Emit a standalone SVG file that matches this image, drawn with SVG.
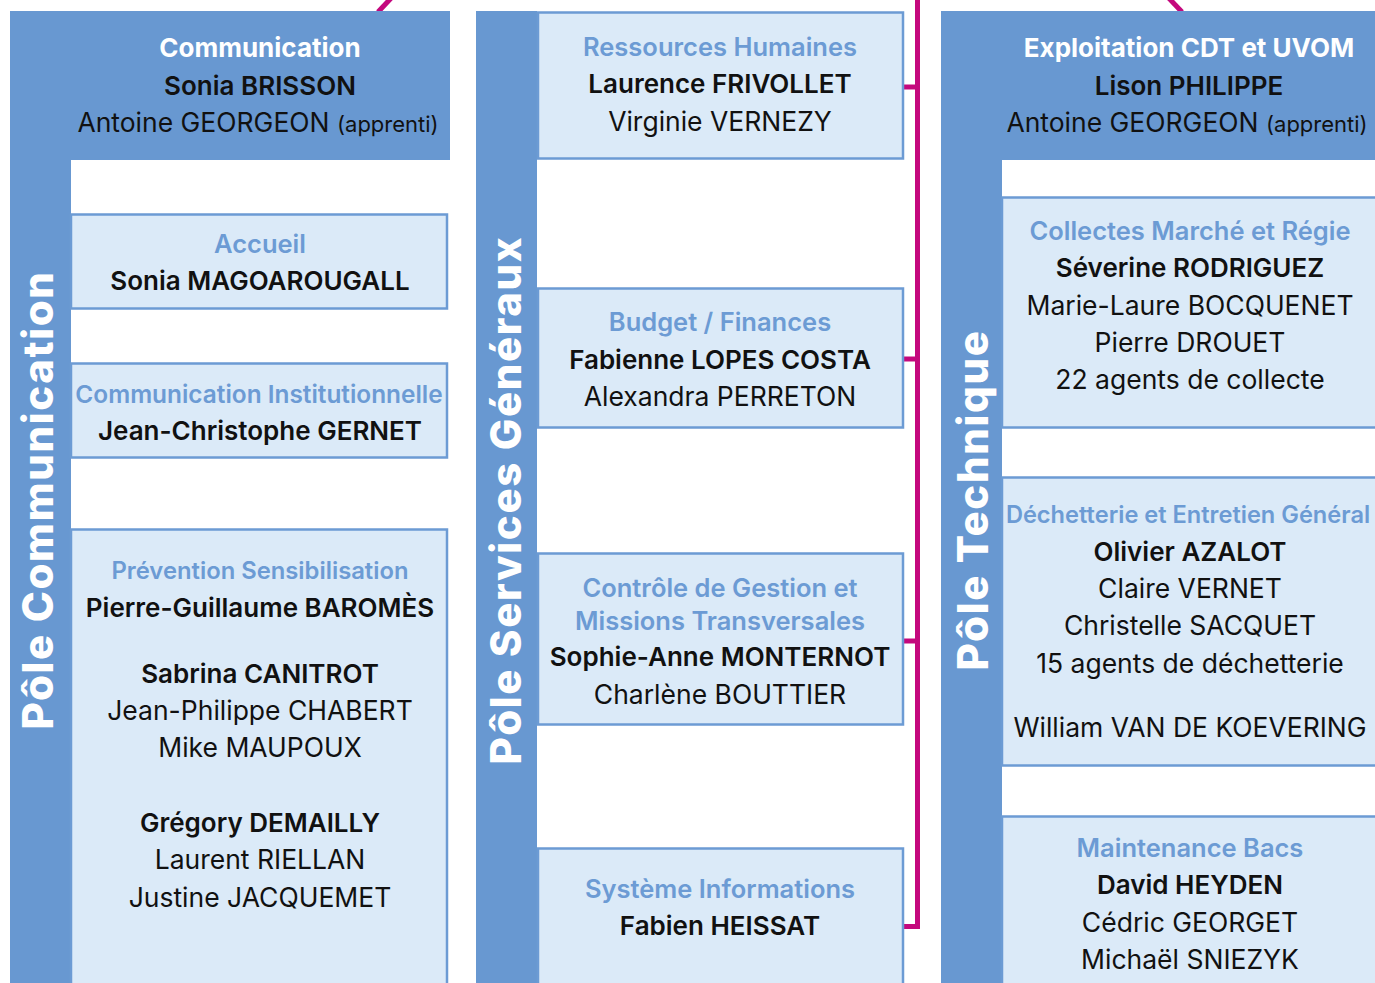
<svg xmlns="http://www.w3.org/2000/svg" width="1375" height="983" viewBox="0 0 1375 983">
<style>
text{font-family:"Inter","Noto Sans","Liberation Sans",sans-serif;text-anchor:middle;font-size:26.5px;fill:#111}
.bar{fill:#6898d1}
.box{fill:#dbeaf8;stroke:#6c9bd4;stroke-width:2.5}
.t{fill:#fff;font-weight:700;font-size:26px}
.s{fill:#6c9bd4;font-weight:600;font-size:25.5px}
.b{font-weight:600;font-size:26px}
.r{font-weight:400}
.sm{font-size:22px}
.pole{fill:#fff;font-weight:800;font-size:42px;letter-spacing:1.6px}
.con{stroke:#c4087d;stroke-width:5;fill:none}
</style>
<rect width="1375" height="983" fill="#fff"/>
<g id="connectors">
<line class="con" x1="378" y1="12" x2="395" y2="-6"/>
<line class="con" x1="1182" y1="12" x2="1163" y2="-8"/>
<polyline class="con" points="917.5,-2 917.5,926.5 903,926.5"/>
<line class="con" x1="903" y1="87" x2="917.5" y2="87"/>
<line class="con" x1="903" y1="359" x2="917.5" y2="359"/>
<line class="con" x1="903" y1="641" x2="917.5" y2="641"/>
</g>
<g id="pole-communication">
<rect class="bar" x="10" y="11" width="61" height="980"/>
<rect class="bar" x="10" y="11" width="440" height="149"/>
<text class="pole" transform="translate(53,500) rotate(-90)">Pôle Communication</text>
<text class="t" x="260" y="57">Communication</text>
<text class="b" x="260" y="95">Sonia BRISSON</text>
<text class="r" x="258" y="132">Antoine GEORGEON <tspan class="sm">(apprenti)</tspan></text>
</g>
<g id="accueil">
<rect class="box" x="71" y="214.5" width="376" height="94"/>
<text class="s" x="260" y="253">Accueil</text>
<text class="b" x="260" y="290">Sonia MAGOAROUGALL</text>
</g>
<g id="comm-institutionnelle">
<rect class="box" x="71" y="363.5" width="376" height="94"/>
<text class="s" x="259" y="403" style="font-size:24.4px">Communication Institutionnelle</text>
<text class="b" x="260" y="440">Jean-Christophe GERNET</text>
</g>
<g id="prevention">
<rect class="box" x="71" y="529.5" width="376" height="470"/>
<text class="s" x="260" y="579" style="font-size:23.8px">Prévention Sensibilisation</text>
<text class="b" x="260" y="617">Pierre-Guillaume BAROMÈS</text>
<text class="b" x="260" y="683">Sabrina CANITROT</text>
<text class="r" x="260" y="720">Jean-Philippe CHABERT</text>
<text class="r" x="260" y="757">Mike MAUPOUX</text>
<text class="b" x="260" y="832">Grégory DEMAILLY</text>
<text class="r" x="260" y="869">Laurent RIELLAN</text>
<text class="r" x="260" y="907">Justine JACQUEMET</text>
</g>
<g id="pole-services-generaux">
<rect class="bar" x="476" y="11" width="61" height="980"/>
<text class="pole" transform="translate(521,500) rotate(-90)">Pôle Services Généraux</text>
</g>
<g id="ressources-humaines">
<rect class="box" x="538" y="12.5" width="365" height="146"/>
<text class="s" x="720" y="56">Ressources Humaines</text>
<text class="b" x="720" y="93">Laurence FRIVOLLET</text>
<text class="r" x="720" y="131">Virginie VERNEZY</text>
</g>
<g id="budget-finances">
<rect class="box" x="538" y="288.5" width="365" height="139"/>
<text class="s" x="720" y="331">Budget / Finances</text>
<text class="b" x="720" y="369">Fabienne LOPES COSTA</text>
<text class="r" x="720" y="406">Alexandra PERRETON</text>
</g>
<g id="controle-gestion">
<rect class="box" x="538" y="553.5" width="365" height="171"/>
<text class="s" x="720" y="597">Contrôle de Gestion et</text>
<text class="s" x="720" y="630">Missions Transversales</text>
<text class="b" x="720" y="666">Sophie-Anne MONTERNOT</text>
<text class="r" x="720" y="704">Charlène BOUTTIER</text>
</g>
<g id="systeme-informations">
<rect class="box" x="538" y="848.5" width="365" height="150"/>
<text class="s" x="720" y="898">Système Informations</text>
<text class="b" x="720" y="935">Fabien HEISSAT</text>
</g>
<g id="pole-technique">
<rect class="bar" x="941" y="11" width="61" height="980"/>
<rect class="bar" x="941" y="11" width="450" height="149"/>
<text class="pole" transform="translate(988,500) rotate(-90)">Pôle Technique</text>
<text class="t" x="1189" y="57">Exploitation CDT et UVOM</text>
<text class="b" x="1189" y="95">Lison PHILIPPE</text>
<text class="r" x="1187" y="132">Antoine GEORGEON <tspan class="sm">(apprenti)</tspan></text>
</g>
<g id="collectes">
<rect class="box" x="1002" y="197.5" width="390" height="230"/>
<text class="s" x="1190" y="240">Collectes Marché et Régie</text>
<text class="b" x="1190" y="277">Séverine RODRIGUEZ</text>
<text class="r" x="1190" y="315">Marie-Laure BOCQUENET</text>
<text class="r" x="1190" y="352">Pierre DROUET</text>
<text class="r" x="1190" y="389">22 agents de collecte</text>
</g>
<g id="dechetterie">
<rect class="box" x="1002" y="477.5" width="390" height="288"/>
<text class="s" x="1188" y="523" style="font-size:23.6px">Déchetterie et Entretien Général</text>
<text class="b" x="1190" y="561">Olivier AZALOT</text>
<text class="r" x="1190" y="598">Claire VERNET</text>
<text class="r" x="1190" y="635">Christelle SACQUET</text>
<text class="r" x="1190" y="673">15 agents de déchetterie</text>
<text class="r" x="1190" y="737">William VAN DE KOEVERING</text>
</g>
<g id="maintenance-bacs">
<rect class="box" x="1002" y="816.5" width="390" height="180"/>
<text class="s" x="1190" y="857">Maintenance Bacs</text>
<text class="b" x="1190" y="894">David HEYDEN</text>
<text class="r" x="1190" y="932">Cédric GEORGET</text>
<text class="r" x="1190" y="969">Michaël SNIEZYK</text>
</g>
</svg>
